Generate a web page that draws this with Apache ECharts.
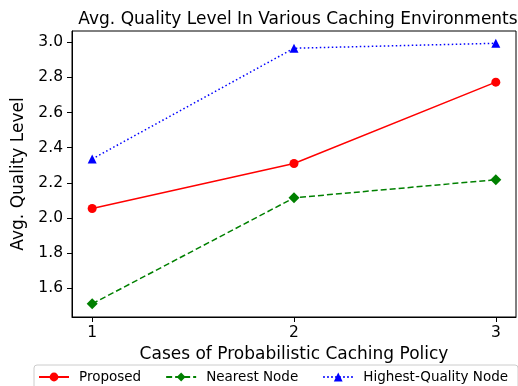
<!DOCTYPE html>
<html>
<head>
<meta charset="utf-8">
<script src="https://cdn.jsdelivr.net/npm/echarts@6/dist/echarts.min.js"></script>
<style>
  html, body { margin: 0; padding: 0; background: #fff; }
  #chart { width: 518px; height: 386px; }
</style>
</head>
<body>
<div id="chart"></div>
<script>
var cases = [1, 2, 3];
var proposed = [2.054, 2.31, 2.773];
var nearestNode = [1.512, 2.115, 2.218];
var highestQuality = [2.336, 2.966, 2.994];
var yTicks = [1.6, 1.8, 2.0, 2.2, 2.4, 2.6, 2.8, 3.0];

function pairs(vals) {
    return cases.map(function (c, i) { return [c, vals[i]]; });
}

var font = 'DejaVu Sans';
var chart = echarts.init(document.getElementById('chart'), null, { renderer: 'canvas' });

var option = {
    animation: false,
    title: {
        text: 'Avg. Quality Level In Various Caching Environments',
        left: 293,
        top: 6,
        textAlign: 'center',
        textStyle: { fontFamily: font, fontSize: 17, fontWeight: 'normal', color: '#000' }
    },
    grid: {
        left: 72, right: 2, top: 31, bottom: 69,
        show: true, borderColor: '#000', borderWidth: 1
    },
    legend: {
        bottom: -8,
        left: 34,
        width: 600,
        orient: 'horizontal',
        itemWidth: 30,
        itemHeight: 11,
        itemGap: 24,
        padding: [5, 10, 10, 4],
        borderColor: '#ccc',
        borderWidth: 1,
        borderRadius: 3,
        textStyle: { fontFamily: font, fontSize: 13.5, color: '#000', padding: [0, 0, 0, 5] },
        data: ['Proposed', 'Nearest Node', 'Highest-Quality Node']
    },
    xAxis: {
        type: 'value',
        min: 0.9,
        max: 3.1,
        name: 'Cases of Probabilistic Caching Policy',
        nameLocation: 'middle',
        nameGap: 26,
        nameTextStyle: { fontFamily: font, fontSize: 17, color: '#000' },
        splitLine: { show: false },
        axisLine: { lineStyle: { color: '#000' } },
        axisTick: { show: true, length: 5, customValues: cases, lineStyle: { color: '#000' } },
        axisLabel: { customValues: cases, fontFamily: font, fontSize: 15.5, color: '#000', margin: 8 }
    },
    yAxis: {
        type: 'value',
        min: 1.437,
        max: 3.064,
        name: 'Avg. Quality Level',
        nameLocation: 'middle',
        nameGap: 41,
        nameTextStyle: { fontFamily: font, fontSize: 17, color: '#000' },
        splitLine: { show: false },
        axisLine: { show: true, lineStyle: { color: '#000' } },
        axisTick: { show: true, length: 5, customValues: yTicks, lineStyle: { color: '#000' } },
        axisLabel: {
            customValues: yTicks, fontFamily: font, fontSize: 15.5, color: '#000', margin: 9,
            formatter: function (v) { return v.toFixed(1); }
        }
    },
    series: [
        {
            name: 'Proposed',
            type: 'line',
            data: pairs(proposed),
            symbol: 'circle',
            symbolSize: 9,
            color: '#ff0000',
            lineStyle: { width: 1.5, type: 'solid' }
        },
        {
            name: 'Nearest Node',
            type: 'line',
            data: pairs(nearestNode),
            symbol: 'diamond',
            symbolSize: 11,
            color: '#008000',
            lineStyle: { width: 1.5, type: [6, 3] }
        },
        {
            name: 'Highest-Quality Node',
            type: 'line',
            data: pairs(highestQuality),
            symbol: 'triangle',
            symbolSize: 9,
            color: '#0000ff',
            lineStyle: { width: 1.5, type: [1.5, 2.5] }
        }
    ]
};

chart.setOption(option);
</script>
</body>
</html>
